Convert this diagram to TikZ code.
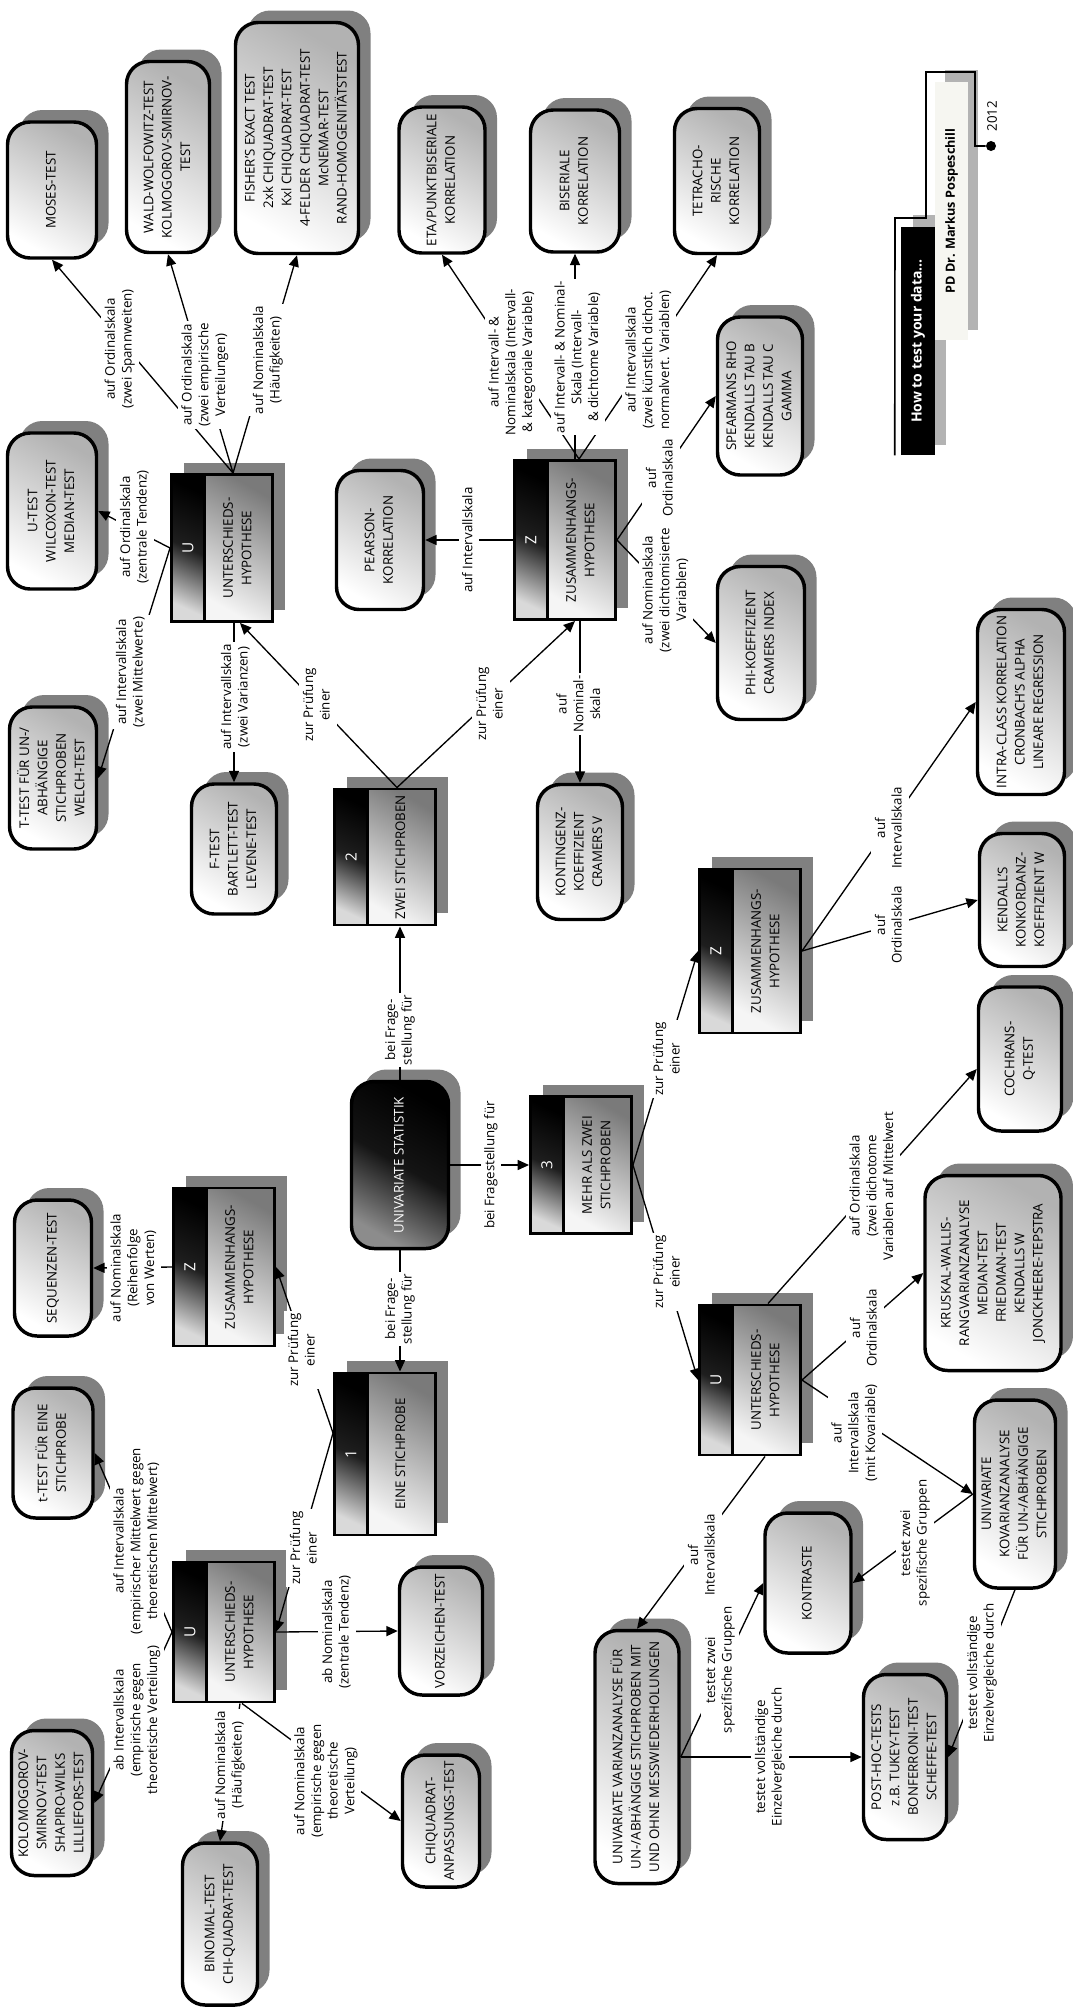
\documentclass[tikz,border=0pt]{standalone}
\usepackage{fontspec}
\setmainfont{Open Sans}
\usetikzlibrary{arrows.meta,calc}
\definecolor{shadowc}{HTML}{808080}
\definecolor{tshadow}{HTML}{B3B3B3}
\definecolor{offwhite}{HTML}{F6F6F1}
\newcommand\boxfont{\fontsize{10}{13.8}\selectfont}
\newcommand\labfont{\fontsize{10}{12.5}\selectfont}
\newcommand\lettfont{\fontsize{11.5}{12}\selectfont}
\newcommand\RotT[1]{\rotatebox{90}{\begin{tabular}{@{}c@{}}#1\end{tabular}}}
% rounded box: name, cx, cy, W, H, text
\newcommand\RB[6]{%
  \node[rshadow, sz={#4}{#5}] (#1-s) at (#2+12,#3-12) {};
  \node[rbx, sz={#4}{#5}] (#1) at (#2,#3) {\RotT{#6}};}
% label: name, x, y, text
\newcommand\LB[4]{\node[lab] (#1) at (#2,#3) {\RotT{#4}};}
% hypothesis box: name, cx, cy, H, letter, text
\newcommand\HB[6]{%
  \pgfmathsetmacro\hbL{#2-50.5}%
  \pgfmathsetmacro\hbR{#2+50.5}%
  \pgfmathsetmacro\hbT{#3-#4/2}%
  \pgfmathsetmacro\hbB{#3+#4/2}%
  \pgfmathsetmacro\hbM{#2-50.5+33}%
  \fill[shadowc] (\hbL+12,\hbT-12) rectangle (\hbR+12,\hbB-12);
  \shade[top color=black!52, bottom color=black!4, shading angle=-30] (\hbM,\hbT) rectangle (\hbR,\hbB);
  \shade[top color=black, bottom color=black!15, middle color=black!88, shading angle=-25] (\hbL,\hbT) rectangle (\hbM,\hbB);
  \draw[line width=2.2pt] (\hbM,\hbT) -- (\hbM,\hbB);
  \node[hypframe, sz={101}{#4}] (#1) at (#2,#3) {};
  \node[font=\lettfont, text=white, inner sep=0pt] (#1-l) at ({(\hbL+\hbM)/2},#3) {\rotatebox{90}{#5}};
  \node[font=\boxfont, inner sep=0pt] (#1-t) at ({(\hbM+\hbR)/2},#3) {\RotT{#6}};}
\begin{document}
\begin{tikzpicture}[x=0.75pt,y=-0.75pt,
  sz/.style 2 args={minimum width=#1*0.75pt, minimum height=#2*0.75pt},
  rbx/.style={draw=black, line width=2.6pt, rounded corners=17pt, inner sep=1pt,
    top color=black!30, bottom color=white, shading angle=-30, font=\boxfont},
  rshadow/.style={fill=shadowc, rounded corners=17pt, inner sep=0pt},
  statbx/.style={draw=black, line width=2.6pt, rounded corners=17pt, inner sep=1pt,
    top color=black, bottom color=black!45, middle color=black!92, shading angle=-30,
    text=white, font=\boxfont},
  hypframe/.style={draw=black, line width=2.2pt, inner sep=0pt},
  lab/.style={fill=white, inner sep=1.5pt, font=\labfont},
  conn/.style={line width=1pt, -{Triangle[length=8.5pt,width=7.5pt]}}]
\fill[white] (0,0) rectangle (1073,2011);
\useasboundingbox (0,0) rectangle (1073,2011);

% ---------- rounded boxes ----------
\RB{moses}{52}{190}{89}{136}{MOSES-TEST}
\RB{wald}{168}{157}{83}{191}{WALD-WOLFOWITZ-TEST\\KOLMOGOROV-SMIRNOV-\\TEST}
\RB{fisher}{297}{138}{123}{231}{FISHER’S EXACT TEST\\2xk CHIQUADRAT-TEST\\Kxl CHIQUADRAT-TEST\\4-FELDER CHIQUADRAT-TEST\\McNEMAR-TEST\\RAND-HOMOGENITÄTSTEST}
\RB{utest}{52}{511}{89}{156}{U-TEST\\WILCOXON-TEST\\MEDIAN-TEST}
\RB{ttest}{53}{778}{87}{142}{T-TEST FÜR UN-/\\ABHÄNGIGE\\STICHPROBEN\\WELCH-TEST}
\RB{ftest}{234}{849}{85}{130}{F-TEST\\BARTLETT-TEST\\LEVENE-TEST}
\RB{eta}{442}{180}{86}{146}{ETA/PUNKTBISERIALE\\KORRELATION}
\RB{bis}{575}{181}{89}{142}{BISERIALE\\KORRELATION}
\RB{tetra}{717}{181}{85}{145}{TETRACHO-\\RISCHE\\KORRELATION}
\RB{spear}{760}{396}{85}{158}{SPEARMANS RHO\\KENDALLS TAU B\\KENDALLS TAU C\\GAMMA}
\RB{pearson}{380}{540}{87}{139}{PEARSON-\\KORRELATION}
\RB{kont}{580}{852}{85}{135}{KONTINGENZ-\\KOEFFIZIENT\\CRAMERS V}
\RB{phi}{761}{643}{87}{153}{PHI-KOEFFIZIENT\\CRAMERS INDEX}
\RB{intra}{1021}{702}{87}{185}{INTRA-CLASS KORRELATION\\CRONBACH’S ALPHA\\LINEARE REGRESSION}
\RB{kendw}{1022}{900}{85}{133}{KENDALL’S\\KONKORDANZ-\\KOEFFIZIENT W}
\RB{coch}{1020}{1059}{83}{144}{COCHRANS-\\Q-TEST}
\RB{krus}{993}{1273}{136}{195}{KRUSKAL-WALLIS-\\RANGVARIANZANALYSE\\MEDIAN-TEST\\FRIEDMAN-TEST\\KENDALLS W\\JONCKHEERE-TEPSTRA}
\RB{kov}{1015}{1494}{81}{188}{UNIVARIATE\\KOVARIANZANALYSE\\FÜR UN-/ABHÄNGIGE\\STICHPROBEN}
\RB{kontr}{808}{1583}{86}{140}{KONTRASTE}
\RB{posthoc}{905}{1757}{83}{165}{POST-HOC-TESTS\\z.B. TUKEY-TEST\\BONFERRONI-TEST\\SCHEFFE-TEST}
\RB{varianz}{637}{1757}{84}{253}{UNIVARIATE VARIANZANALYSE FÜR\\UN-/ABHÄNGIGE STICHPROBEN MIT\\UND OHNE MESSWIEDERHOLUNGEN}
\RB{vorz}{441}{1631}{83}{128}{VORZEICHEN-TEST}
\RB{chianp}{441}{1821}{77}{132}{CHIQUADRAT-\\ANPASSUNGS-TEST}
\RB{binom}{220}{1924}{75}{162}{BINOMIAL-TEST\\CHI-QUADRAT-TEST}
\RB{kolmo}{52}{1803}{81}{145}{KOLOMOGOROV-\\SMIRNOV-TEST\\SHAPIRO-WILKS\\LILLIEFORS-TEST}
\RB{seq}{53}{1268}{77}{136}{SEQUENZEN-TEST}
\RB{tone}{53}{1453}{80}{130}{t-TEST FÜR EINE\\STICHPROBE}

% central box
\node[rshadow, sz={97}{167}] (stat-s) at (412,1153) {};
\node[statbx, sz={97}{167}] (stat) at (400,1165) {\RotT{UNIVARIATE STATISTIK}};

% ---------- hypothesis boxes ----------
\HB{U2}{222}{548}{147}{U}{UNTERSCHIEDS-\\HYPOTHESE}
\HB{Z2}{565}{540}{159}{Z}{ZUSAMMENHANGS-\\HYPOTHESE}
\HB{two}{385}{857}{136}{2}{ZWEI STICHPROBEN}
\HB{three}{581}{1165}{137}{3}{MEHR ALS ZWEI\\STICHPROBEN}
\HB{Z3}{750}{951}{164}{Z}{ZUSAMMENHANGS-\\HYPOTHESE}
\HB{U3}{750}{1380}{150}{U}{UNTERSCHIEDS-\\HYPOTHESE}
\HB{one}{385}{1454}{162}{1}{EINE STICHPROBE}
\HB{Z1}{224}{1267}{158}{Z}{ZUSAMMENHANGS-\\HYPOTHESE}
\HB{U1}{224}{1632}{140}{U}{UNTERSCHIEDS-\\HYPOTHESE}

% ---------- title ----------
\fill[tshadow] (913,215) rectangle (946,445);
\node[fill=black, inner sep=0pt, sz={34}{228}, text=white,
  font=\fontsize{10.5}{12}\selectfont\bfseries] (title) at (918,341)
  {\rotatebox{90}{How to test your data...}};
\fill[tshadow] (945,70) rectangle (978,330);
\node[fill=offwhite, inner sep=0pt, sz={33}{258},
  font=\fontsize{9.5}{11}\selectfont\bfseries] (author) at (951.5,211)
  {\rotatebox{90}{PD Dr. Markus Pospeschill}};
\node[circle, fill=black, inner sep=0pt, minimum size=7.5pt] (dot) at (991,146) {};
\draw[line width=1.2pt] ($(title.south west)+(-6,0)$) -- (895,218) -- (926,218) -- (926,72)
  -- (975,72) -- (975,146) -- (dot);
\node[font=\fontsize{10}{12}\selectfont, inner sep=0pt] (year) at (992,116) {\rotatebox{90}{2012}};

% ---------- connectors ----------
\draw[conn] ($(U2.north west)+(63,0)$) -- (moses.south);
\draw[conn] ($(U2.north west)+(63,0)$) -- (wald.south);
\draw[conn] ($(U2.north west)+(63,0)$) -- (fisher.south);
\draw[conn] (U2.west) -- (utest.east);
\draw[conn] (U2.west) -- (ttest.east);
\draw[conn] (ftest.north |- U2.south) -- (ftest.north);
\draw[conn] ($(two.north)+(12,0)$) -- ($(U2.south)+(18,0)$);
\draw[conn] ($(two.north)+(12,0)$) -- ($(Z2.south)+(10,0)$);
\draw[conn] (Z2.west) -- (pearson.east);
\draw[conn] ($(Z2.north)+(14,0)$) -- (eta.south);
\draw[conn] (bis.south |- Z2.north) -- (bis.south);
\draw[conn] ($(Z2.north)+(14,0)$) -- (tetra.south);
\draw[conn] (Z2.east) -- (spear.west);
\draw[conn] (Z2.east) -- (phi.west);
\draw[conn] (kont.north |- Z2.south) -- (kont.north);
\draw[conn] (stat.north) -- (stat.north |- two.south);
\draw[conn] (stat.east) -- (three.west);
\draw[conn] (stat.south) -- (stat.south |- one.north);
\draw[conn] (three.east) -- (Z3.west);
\draw[conn] (three.east) -- (U3.west);
\draw[conn] (Z3.east) -- (kendw.west);
\draw[conn] (Z3.east) -- (intra.west);
\draw[conn] ($(U3.north)+(18,0)$) -- ($(coch.west)+(0,10)$);
\draw[conn] (U3.east) -- (krus.west);
\draw[conn] (U3.east) -- (kov.west);
\draw[conn] ($(U3.south)+(15,0)$) -- (varianz.north);
\draw[conn] (kov.west) -- (kontr.east);
\draw[conn] (kov.south) -- (posthoc.east);
\draw[conn] (varianz.east) -- (kontr.west);
\draw[conn] (varianz.east) -- (posthoc.west);
\draw[conn] ($(one.west)+(0,-21)$) -- (Z1.east);
\draw[conn] ($(one.west)+(0,-21)$) -- (U1.east);
\draw[conn] (Z1.west) -- (seq.east);
\draw[conn] (U1.west) -- (tone.east);
\draw[conn] (U1.west) -- (kolmo.east);
\draw[conn] (U1.east) -- (vorz.west);
\draw[conn] ($(U1.south)+(16,0)$) -- (binom.north);
\draw[conn] ($(U1.south)+(18,0)$) -- (chianp.west);

% ---------- labels ----------
\LB{L1}{120}{349}{auf Ordinalskala\\(zwei Spannweiten)}
\LB{L2}{205}{375}{auf Ordinalskala\\(zwei empirische\\Verteilungen)}
\LB{L3}{268}{360}{auf Nominalskala\\(Häufigkeiten)}
\LB{L4}{135}{527}{auf Ordinalskala\\(zentrale Tendenz)}
\LB{L5}{131}{672}{auf Intervallskala\\(zwei Mittelwerte)}
\LB{L6}{236}{697}{auf Intervallskala\\(zwei Varianzen)}
\LB{L7}{318}{705}{zur Prüfung\\einer}
\LB{L8}{491}{704}{zur Prüfung\\einer}
\LB{L9}{469}{540}{auf Intervallskala}
\LB{L10}{512}{362}{auf Intervall- \&\\Nominalskala (Intervall-\\\& kategoriale Variable)}
\LB{L11}{578}{357}{auf Intervall- \& Nominal-\\Skala (Intervall-\\\& dichtome Variable)}
\LB{L12}{649}{360}{auf Intervallskala\\(zwei künstlich dichot.\\normalvert. Variablen)}
\LB{L13}{661}{478}{auf\\Ordinalskala}
\LB{L14}{666}{590}{auf Nominalskala\\(zwei dichtomisierte\\Variablen)}
\LB{L15}{580}{704}{auf\\Nominal-\\skala}
\LB{L16}{400}{1030}{bei Frage-\\stellung für}
\LB{L17}{491}{1165}{bei Fragestellung für}
\LB{L18}{400}{1309}{bei Frage-\\stellung für}
\LB{L19}{668}{1059}{zur Prüfung\\einer}
\LB{L20}{668}{1272}{zur Prüfung\\einer}
\LB{L21}{890}{925}{auf\\Ordinalskala}
\LB{L22}{890}{828}{auf\\Intervallskala}
\LB{L23}{873}{1186}{auf Ordinalskala\\(zwei dichotome\\Variablen auf Mittelwert}
\LB{L24}{865}{1328}{auf\\Ordinalskala}
\LB{L25}{855}{1433}{auf\\Intervallskala\\(mit Kovariable)}
\LB{L26}{703}{1555}{auf\\Intervallskala}
\LB{L27}{915}{1543}{testet zwei\\spezifische Gruppen}
\LB{L28}{982}{1673}{testet vollständige\\Einzelvergleiche durch}
\LB{L29}{720}{1670}{testet zwei\\spezifische Gruppen}
\LB{L30}{770}{1757}{testet vollständige\\Einzelvergleiche durch}
\LB{L31}{303}{1350}{zur Prüfung\\einer}
\LB{L32}{305}{1548}{zur Prüfung\\einer}
\LB{L33}{134}{1268}{auf Nominalskala\\(Reihenfolge\\von Werten)}
\LB{L34}{137}{1541}{auf Intervallskala\\(empirischer Mittelwert gegen\\theoretischen Mittelwert)}
\LB{L35}{137}{1720}{ab Intervallskala\\(empirische gegen\\theoretische Verteilung)}
\LB{L36}{337}{1632}{ab Nominalskala\\(zentrale Tendenz)}
\LB{L37}{230}{1765}{auf Nominalskala\\(Häufigkeiten)}
\LB{L38}{326}{1781}{auf Nominalskala\\(empirische gegen\\theoretische\\Verteilung)}
\end{tikzpicture}
\end{document}
